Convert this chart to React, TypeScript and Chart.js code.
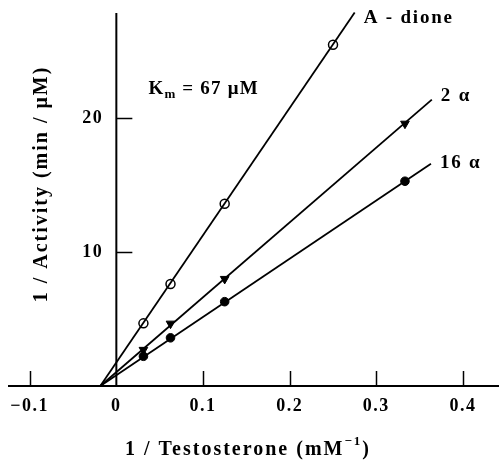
import { useEffect, useRef } from 'react';
import { Chart, registerables } from 'chart.js';

Chart.register(...registerables);

// 1 / [Testosterone] (mM^-1)
const xA = [0.03125, 0.0625, 0.125, 0.25];
const xB = [0.03125, 0.0625, 0.125, 0.333];
// 1 / Activity (min / µM)
const aDione = [4.68, 7.62, 13.62, 25.5];
const twoAlpha = [2.7, 4.66, 8.0, 19.6];
const sixteenAlpha = [2.22, 3.6, 6.3, 15.3];

// fitted lines (start / end)
const fitAX = [-0.0185, 0.275];
const fitAY = [0, 27.9];
const fit2X = [-0.0185, 0.364];
const fit2Y = [0, 21.4];
const fit16X = [-0.0185, 0.363];
const fit16Y = [0, 16.6];

const seriesNames = ['A - dione', '2 \u03b1', '16 \u03b1'];

const xTicks = [-0.1, 0, 0.1, 0.2, 0.3, 0.4];
const xTickLabels = ['\u22120.1', '0', '0.1', '0.2', '0.3', '0.4'];
const yTicks = [10, 20];
const yTickLabels = ['10', '20'];

const X_MIN = -0.125;
const X_MAX = 0.4415;
const Y_MIN = 0;
const Y_MAX = 27.87;

const FONT = '"Liberation Serif", "Times New Roman", serif';

const pts = (xs: number[], ys: number[]) => xs.map((x, i) => ({ x, y: ys[i] }));

const axesPlugin = {
  id: 'customAxes',
  beforeDatasetsDraw(chart: any) {
    const { ctx, chartArea, scales } = chart;
    const xs = scales.x;
    const ys = scales.y;
    const x0 = xs.getPixelForValue(0);
    const y0 = ys.getPixelForValue(0);
    ctx.save();
    ctx.strokeStyle = '#000';
    ctx.lineWidth = 2;
    ctx.beginPath();
    ctx.moveTo(chartArea.left, y0);
    ctx.lineTo(chartArea.right, y0);
    ctx.stroke();
    ctx.beginPath();
    ctx.moveTo(x0, chartArea.top);
    ctx.lineTo(x0, y0);
    ctx.stroke();

    ctx.lineWidth = 1.5;
    xTicks.forEach((v) => {
      if (v === 0) return;
      const px = Math.round(xs.getPixelForValue(v)) + 0.5;
      ctx.beginPath();
      ctx.moveTo(px, y0);
      ctx.lineTo(px, y0 - 15);
      ctx.stroke();
    });
    yTicks.forEach((v) => {
      const py = Math.round(ys.getPixelForValue(v)) + 0.5;
      ctx.beginPath();
      ctx.moveTo(x0, py);
      ctx.lineTo(x0 + 16, py);
      ctx.stroke();
    });

    ctx.fillStyle = '#000';
    ctx.font = `bold 18px ${FONT}`;
    (ctx as any).letterSpacing = '1.5px';
    ctx.textBaseline = 'middle';
    ctx.textAlign = 'center';
    xTicks.forEach((v, i) => {
      ctx.fillText(xTickLabels[i], xs.getPixelForValue(v), y0 + 20);
    });
    ctx.textAlign = 'right';
    yTicks.forEach((v, i) => {
      ctx.fillText(yTickLabels[i], x0 - 13, ys.getPixelForValue(v));
    });

    // y title
    ctx.save();
    ctx.translate(42, 184);
    ctx.rotate(-Math.PI / 2);
    ctx.textAlign = 'center';
    ctx.font = `bold 20px ${FONT}`;
    (ctx as any).letterSpacing = '2px';
    ctx.fillText('1 / Activity (min / \u03bcM)', 0, 0);
    ctx.restore();

    // x title with superscript
    ctx.font = `bold 20px ${FONT}`;
    (ctx as any).letterSpacing = '2px';
    ctx.textAlign = 'left';
    const main = '1 / Testosterone (mM';
    const sup = '\u22121';
    const close = ')';
    const wMain = ctx.measureText(main).width;
    ctx.font = `bold 13px ${FONT}`;
    const wSup = ctx.measureText(sup).width;
    ctx.font = `bold 20px ${FONT}`;
    const wClose = ctx.measureText(close).width;
    let tx = 248 - (wMain + wSup + wClose) / 2;
    const ty = 450;
    ctx.fillText(main, tx, ty);
    tx += wMain;
    ctx.font = `bold 13px ${FONT}`;
    ctx.fillText(sup, tx, ty - 8);
    tx += wSup;
    ctx.font = `bold 20px ${FONT}`;
    ctx.fillText(close, tx, ty);
    ctx.restore();
  },
  afterDatasetsDraw(chart: any) {
    const { ctx, scales } = chart;
    const xs = scales.x;
    const ys = scales.y;
    ctx.save();
    ctx.fillStyle = '#000';
    ctx.textBaseline = 'middle';
    ctx.textAlign = 'left';
    ctx.font = `bold 19px ${FONT}`;
    (ctx as any).letterSpacing = '1.8px';
    const ends = [
      [fitAX[1], fitAY[1], 5],
      [fit2X[1], fit2Y[1], -3],
      [fit16X[1], fit16Y[1], -1],
    ];
    ends.forEach(([ex, ey, dy], i) => {
      ctx.fillText(seriesNames[i], xs.getPixelForValue(ex) + 9, ys.getPixelForValue(ey) + dy);
    });

    // Km annotation
    const kx = xs.getPixelForValue(0.037);
    const ky = ys.getPixelForValue(22.2);
    ctx.font = `bold 19px ${FONT}`;
    (ctx as any).letterSpacing = '1.2px';
    ctx.fillText('K', kx, ky);
    let cx = kx + ctx.measureText('K').width;
    ctx.font = `bold 13px ${FONT}`;
    ctx.fillText('m', cx, ky + 6);
    cx += ctx.measureText('m').width;
    ctx.font = `bold 19px ${FONT}`;
    ctx.fillText(' = 67 \u03bcM', cx, ky);
    ctx.restore();
  },
};

export default function App() {
  const ref = useRef<HTMLCanvasElement | null>(null);
  useEffect(() => {
    if (!ref.current) return;
    const lineDs = (xs: number[], ys: number[]) => ({
      data: pts(xs, ys),
      showLine: true,
      borderColor: '#000',
      borderWidth: 1.8,
      pointRadius: 0,
      pointHoverRadius: 0,
      clip: false as any,
    });
    const chart = new Chart(ref.current, {
      type: 'scatter',
      data: {
        datasets: [
          lineDs(fitAX, fitAY),
          lineDs(fit2X, fit2Y),
          lineDs(fit16X, fit16Y),
          {
            label: seriesNames[0],
            data: pts(xA, aDione),
            pointStyle: 'circle',
            pointRadius: 4.5,
            pointBackgroundColor: '#fff',
            pointBorderColor: '#000',
            pointBorderWidth: 1.5,
            clip: false as any,
          },
          {
            label: seriesNames[1],
            data: pts(xB, twoAlpha),
            pointStyle: 'triangle',
            pointRotation: 180,
            pointRadius: 5,
            pointBackgroundColor: '#000',
            pointBorderColor: '#000',
            pointBorderWidth: 1,
            clip: false as any,
          },
          {
            label: seriesNames[2],
            data: pts(xB, sixteenAlpha),
            pointStyle: 'circle',
            pointRadius: 4.3,
            pointBackgroundColor: '#000',
            pointBorderColor: '#000',
            pointBorderWidth: 1,
            clip: false as any,
          },
        ],
      },
      options: {
        responsive: false,
        maintainAspectRatio: false,
        animation: false,
        devicePixelRatio: 1,
        layout: { autoPadding: false, padding: { left: 8, right: 0, top: 13, bottom: 78 } },
        plugins: { legend: { display: false }, tooltip: { enabled: false } },
        scales: {
          x: { type: 'linear', min: X_MIN, max: X_MAX, display: false },
          y: { type: 'linear', min: Y_MIN, max: Y_MAX, display: false },
        },
      },
      plugins: [axesPlugin],
    });
    return () => chart.destroy();
  }, []);
  return (
    <div style={{ position: 'fixed', left: 0, top: 0, width: 499, height: 464, background: '#fff' }}>
      <canvas ref={ref} width={499} height={464} style={{ width: 499, height: 464, display: 'block' }} />
    </div>
  );
}
